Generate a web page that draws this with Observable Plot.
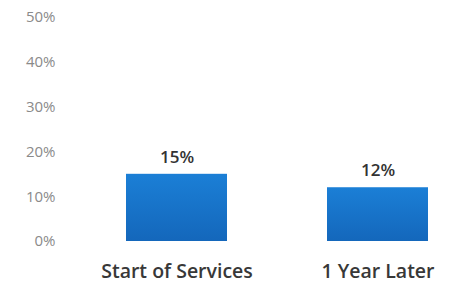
<!DOCTYPE html>
<html>
<head>
<meta charset="utf-8">
<script src="https://cdn.jsdelivr.net/npm/d3@7"></script>
<script src="https://cdn.jsdelivr.net/npm/@observablehq/plot@0.6"></script>
<style>
  html, body { margin: 0; padding: 0; background: #fff; }
  #chart svg { display: block; }
</style>
</head>
<body>
<div id="chart"></div>
<script>
const categories = ["Start of Services", "1 Year Later"];
const values = [0.15, 0.12];
const valueLabels = ["15%", "12%"];
const yTicks = [0, 0.1, 0.2, 0.3, 0.4, 0.5];

const data = categories.map((c, i) => ({ category: c, value: values[i], label: valueLabels[i] }));

const chart = Plot.plot({
  width: 449,
  height: 285,
  marginTop: 17,
  marginBottom: 44,
  marginLeft: 104,
  marginRight: 0,
  style: { fontFamily: "'Open Sans', sans-serif", background: "#fff" },
  x: { domain: categories, paddingInner: 0.5, paddingOuter: 0.104, label: null },
  y: { domain: [0, 0.5], label: null },
  marks: [
    () => {
      const ns = "http://www.w3.org/2000/svg";
      const defs = document.createElementNS(ns, "defs");
      defs.innerHTML = `<linearGradient id="barGrad" x1="0" y1="0" x2="0" y2="1">
        <stop offset="0" stop-color="#1b7fd6"/>
        <stop offset="1" stop-color="#1467bb"/>
      </linearGradient>`;
      return defs;
    },
    Plot.barY(data, { x: "category", y: "value", fill: "url(#barGrad)" }),
    Plot.text(data, { x: "category", y: "value", text: "label", dy: -17, fontSize: 17, fontWeight: 600, fill: "#333" }),
    Plot.axisY({ ticks: yTicks, tickFormat: d3.format(".0%"), tickSize: 0, tickPadding: 49, fontSize: 15, color: "#8a8a8a", label: null }),
    Plot.axisX({ tickSize: 0, tickPadding: 23, fontSize: 19.5, fontWeight: 600, color: "#383838", label: null })
  ]
});
document.getElementById("chart").appendChild(chart);
</script>
</body>
</html>
